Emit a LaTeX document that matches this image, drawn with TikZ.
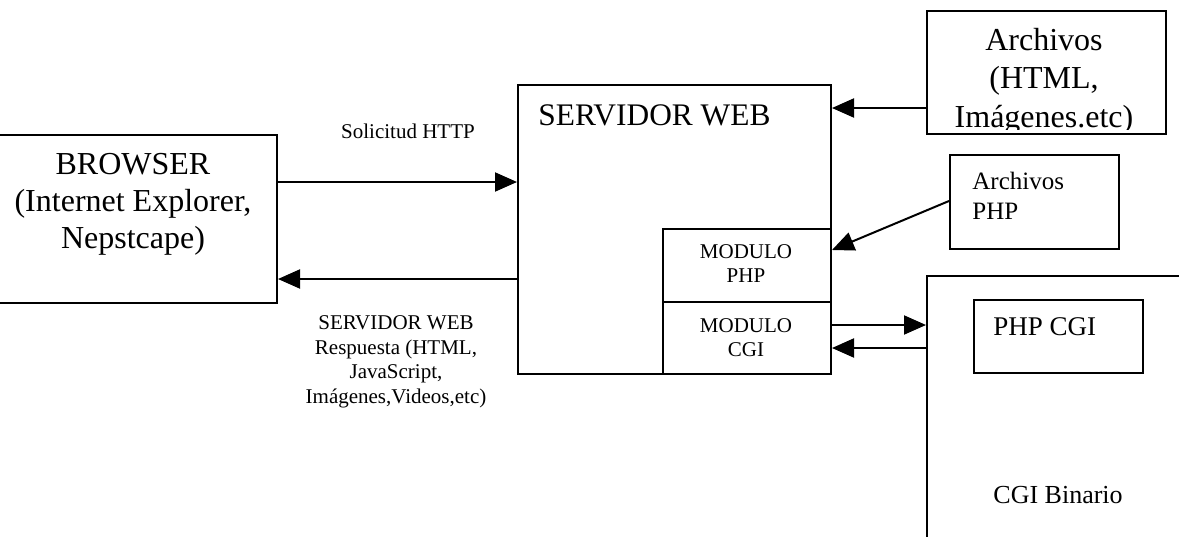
\documentclass[tikz,border=0pt]{standalone}
\usepackage{fontspec}
\setmainfont{Liberation Serif}
\usetikzlibrary{arrows.meta}
\begin{document}
\begin{tikzpicture}[x=0.5pt,y=-0.5pt,
  box/.style={draw, line width=1pt, rectangle, inner sep=0pt, anchor=north west},
  arr/.style={line width=1pt, -{Triangle[length=11pt,width=9.5pt]}},
  lbl/.style={inner sep=0pt, align=center, anchor=base},
  lbll/.style={inner sep=0pt, align=left, anchor=base west},
  big/.style={font=\fontsize{16}{18.5}\selectfont},
  small/.style={font=\fontsize{10.5}{12.2}\selectfont},
]
\useasboundingbox (0,0) rectangle (1179,536);

% boxes
\node[box, minimum width=140.5pt, minimum height=84pt]   (browser)  at (-5,134) {};
\node[box, minimum width=156.5pt, minimum height=144.5pt] (servidor) at (517,84) {};
\node[box, minimum width=84pt,    minimum height=36.5pt]  (modphp)   at (662,228) {};
\node[box, minimum width=84pt,    minimum height=36pt]    (modcgi)   at (662,301) {};
\node[box, minimum width=119.5pt, minimum height=61.5pt]  (archivos) at (926,10) {};
\node[box, minimum width=84.5pt,  minimum height=47pt]    (archphp)  at (949,154) {};
\node[box, minimum width=134.5pt, minimum height=137.5pt] (cgi)      at (926,275) {};
\node[box, minimum width=84.5pt,  minimum height=36.5pt]  (phpcgi)   at (973,299) {};

% texts (multi-line labels are placed by the baseline of their last line)
\node[lbl, big] (browsertxt) at (133,248) {BROWSER\\(Internet Explorer,\\Nepstcape)};
\node[lbll, font=\fontsize{15.7}{18}\selectfont] (servidortxt) at (538,125) {SERVIDOR WEB};
\node[lbl, small] (solicitud) at (408,138) {Solicitud HTTP};
\node[lbl, small] (respuesta) at (396,403) {SERVIDOR WEB\\Respuesta (HTML,\\JavaScript,\\Imágenes,Videos,etc)};
\node[lbl, font=\fontsize{10.5}{12}\selectfont] (modphptxt) at (746,282) {MODULO\\PHP};
\node[lbl, font=\fontsize{10.5}{12}\selectfont] (modcgitxt) at (746,356) {MODULO\\CGI};
% the last line of this label runs into the bottom edge of its box
\coordinate (archclip) at (0,129);
\begin{scope}
  \clip (archivos.north west) rectangle (archivos.east |- archclip);
  \node[lbl, font=\fontsize{16}{19.25}\selectfont] (archivostxt) at (1044,127) {Archivos\\(HTML,\\Imágenes.etc)};
\end{scope}
\node[lbll, font=\fontsize{12.5}{15}\selectfont] (archphptxt) at (972,219) {Archivos\\PHP};
\node[lbll, font=\fontsize{13.5}{16}\selectfont] (phpcgitxt) at (993,335) {PHP CGI};
\node[lbll, font=\fontsize{13}{16}\selectfont] (cgibintxt) at (993,503) {CGI Binario};

% connector levels
\coordinate (yreq)   at (0,182);
\coordinate (yresp)  at (0,279);
\coordinate (yarch)  at (0,108);
\coordinate (yphpa)  at (0,201);
\coordinate (yphpb)  at (0,250);
\coordinate (ycgia)  at (0,325);
\coordinate (ycgib)  at (0,348);

% connectors
\draw[arr] (browser.east |- yreq) -- (servidor.west |- yreq);
\draw[arr] (servidor.west |- yresp) -- (browser.east |- yresp);
\draw[arr] (archivos.west |- yarch) -- (servidor.east |- yarch);
\draw[arr] (archphp.west |- yphpa) -- (modphp.east |- yphpb);
\draw[arr] (modcgi.east |- ycgia) -- (cgi.west |- ycgia);
\draw[arr] (cgi.west |- ycgib) -- (modcgi.east |- ycgib);
\end{tikzpicture}
\end{document}
